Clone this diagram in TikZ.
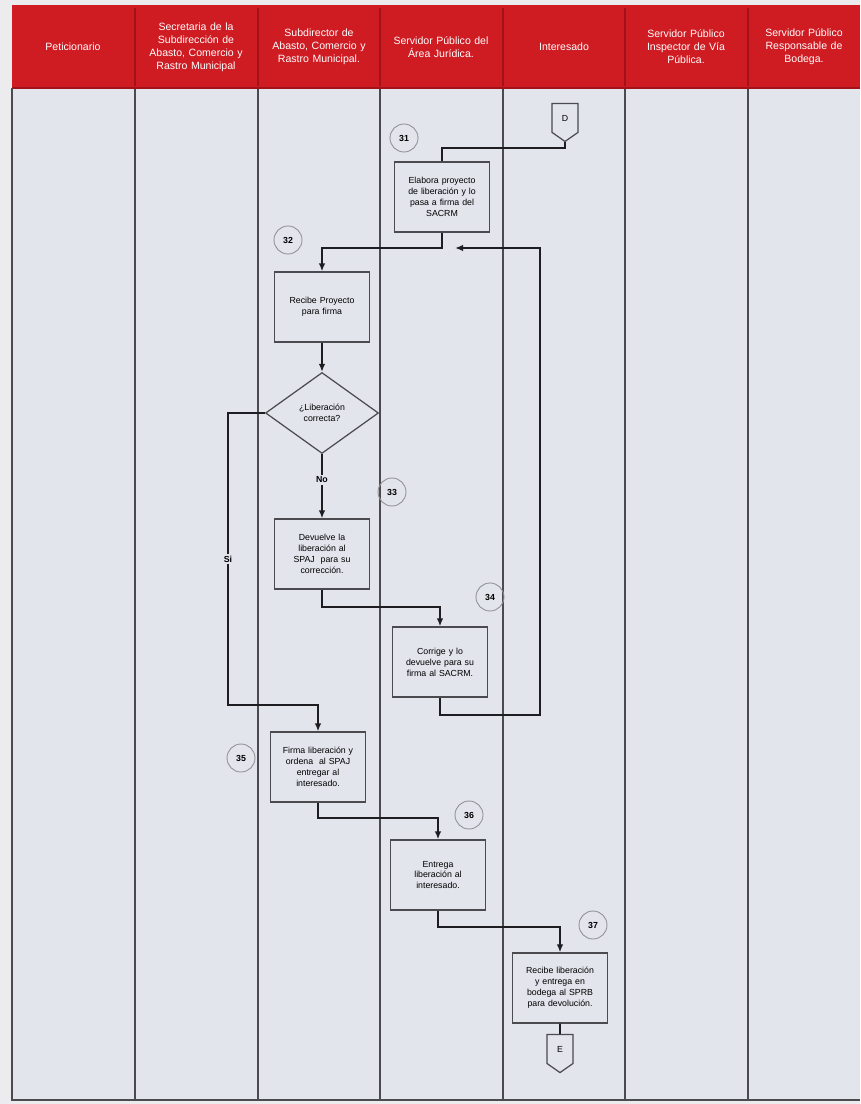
\documentclass[tikz,border=0pt]{standalone}
\usepackage{fontspec}
\setmainfont{Liberation Sans}
\usetikzlibrary{positioning,arrows.meta,shapes.geometric,shapes.symbols}
\definecolor{procRed}{HTML}{CF1B22}
\definecolor{procDarkRed}{HTML}{A3121A}
\definecolor{procLane}{HTML}{E3E5ED}
\definecolor{procPaper}{HTML}{ECECEF}
\definecolor{procLine}{HTML}{4A4A4F}
\definecolor{procInk}{HTML}{1E1E22}

\begin{document}
\begin{tikzpicture}[
  x=0.02cm, y=-0.02cm,
  lane/.style={draw=procLine, line width=0.8pt},
  hdr/.style={text=white, align=center, text width=1.95cm, font=\fontsize{6}{7.4}\selectfont},
  act/.style={draw=procLine, line width=0.7pt, fill=procLane, align=center,
              minimum width=1.9cm, minimum height=1.4cm, text width=1.6cm, inner sep=1pt,
              font=\fontsize{5}{6.2}\selectfont},
  dec/.style={diamond, draw=procLine, line width=0.7pt, fill=procLane, align=center,
              minimum width=2.26cm, minimum height=1.62cm, inner sep=0pt,
              font=\fontsize{5}{6.2}\selectfont},
  num/.style={circle, draw=procLine!60, line width=0.5pt, minimum size=0.56cm, inner sep=0pt,
              font=\fontsize{5}{6}\selectfont\bfseries},
  opc/.style={signal, signal to=south, signal pointer angle=110, draw=procLine, line width=0.7pt,
              fill=procLane, minimum width=0.52cm, minimum height=0.62cm, inner sep=0pt,
              font=\fontsize{5}{6}\selectfont},
  fl/.style={-{Latex[length=1.6mm,width=1.3mm]}, draw=procInk, line width=1.1pt},
  ln/.style={draw=procInk, line width=1.1pt},
  lbl/.style={fill=procLane, inner sep=1pt, font=\fontsize{5}{6}\selectfont\bfseries}
]
\useasboundingbox[fill=procPaper] (0,0) rectangle (860,1104);

% ---- lanes
\fill[procLane] (12,88) rectangle (860,1100);
\fill[procRed] (12,5) rectangle (860,88);
\foreach \x in {135,258,380,503,625,748}{
  \draw[procDarkRed, line width=1pt] (\x,8) -- (\x,86);
  \draw[lane] (\x,88) -- (\x,1100);
}
\draw[procDarkRed, line width=1pt] (12,88) -- (860,88);
\draw[lane] (12,88) -- (12,1100) -- (860,1100);

% ---- headers
\node[hdr] (h1) at (73,47)  {Peticionario};
\node[hdr] (h2) at (196,47) {Secretaria de la\\Subdirección de\\Abasto, Comercio y\\Rastro Municipal};
\node[hdr] (h3) at (319,47) {Subdirector de\\Abasto, Comercio y\\Rastro Municipal.};
\node[hdr] (h4) at (441,47) {Servidor Público del\\Área Jurídica.};
\node[hdr] (h5) at (564,47) {Interesado};
\node[hdr] (h6) at (686,47) {Servidor Público\\Inspector de Vía\\Pública.};
\node[hdr] (h7) at (804,47) {Servidor Público\\Responsable de\\Bodega.};

% ---- activities
\node[opc] (D) at (565,118) {D};
\node[num] (c31) at (404,138) {31};
\node[act] (b31) at (442,197) {Elabora proyecto\\de liberación y lo\\pasa a firma del\\SACRM};

\node[num] (c32) at (288,240) {32};
\node[act] (b32) at (322,307) {Recibe Proyecto\\para firma};
\node[dec] (dec) at (322,413) {¿Liberación\\correcta?};

\node[num] (c33) at (392,492) {33};
\node[act] (b33) at (322,554) {Devuelve la\\liberación al\\SPAJ\ \ para su\\corrección.};

\node[num] (c34) at (490,597) {34};
\node[act] (b34) at (440,662) {Corrige y lo\\devuelve para su\\firma al SACRM.};

\node[num] (c35) at (241,758) {35};
\node[act] (b35) at (318,767) {Firma liberación y\\ordena\ \ al SPAJ\\entregar al\\interesado.};

\node[num] (c36) at (469,815) {36};
\node[act] (b36) at (438,875) {Entrega\\liberación al\\interesado.};

\node[num] (c37) at (593,925) {37};
\node[act] (b37) at (560,988) {Recibe liberación\\y entrega en\\bodega al SPRB\\para devolución.};
\node[opc] (E) at (560,1049) {E};

% ---- connectors
\coordinate (jD)   at (565,148);
\coordinate (j31)  at (442,248);
\coordinate (j33)  at (322,607);
\coordinate (r34a) at (540,715);
\coordinate (r34b) at (540,248);
\coordinate (j34)  at (455,248);
\coordinate (si1)  at (228,413);
\coordinate (si2)  at (228,705);
\coordinate (j35)  at (318,818);
\coordinate (j36)  at (438,927);

\draw[ln] (D.south) -- (jD) -| (b31.north);
\draw[fl] (b31.south) -- (j31) -| (b32.north);
\draw[fl] (b32) -- (dec);
\draw[fl] (dec) -- (b33) node[lbl, pos=0.4] {No};
\draw[fl] (b33.south) -- (j33) -| (b34.north);
\draw[fl] (b34.south) |- (r34a) -- (r34b) -- (j34);
\draw[fl] (dec.west) -- (si1) -- node[lbl] {Si} (si2) -| (b35.north);
\draw[fl] (b35.south) -- (j35) -| (b36.north);
\draw[fl] (b36.south) -- (j36) -| (b37.north);
\draw[ln] (b37) -- (E);
\end{tikzpicture}
\end{document}
